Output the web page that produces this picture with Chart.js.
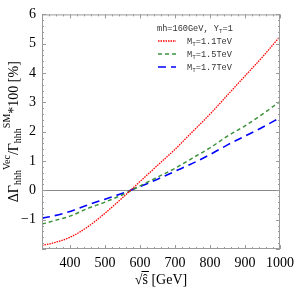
<!DOCTYPE html>
<html>
<head>
<meta charset="utf-8">
<script src="https://cdn.jsdelivr.net/npm/chart.js@4"></script>
<style>
  html, body { margin: 0; padding: 0; background: #fff; }
  #wrap { width: 300px; height: 288px; }
</style>
</head>
<body>
<div id="wrap"><canvas id="c" width="300" height="288"></canvas></div>
<script>
// sqrt(s) in GeV
const sqrtS = [320, 350, 400, 450, 500, 550, 600, 650, 700, 750, 800, 850, 900, 950, 1000];
// Delta Gamma / Gamma_SM * 100 [%]
const mt11 = [-1.88, -1.8, -1.6, -1.25, -0.78, -0.25, 0.3, 0.85, 1.4, 2.0, 2.6, 3.25, 3.9, 4.55, 5.25];
const mt15 = [-1.15, -1.05, -0.88, -0.62, -0.4, -0.15, 0.15, 0.45, 0.75, 1.1, 1.45, 1.85, 2.2, 2.6, 3.03];
const mt17 = [-0.95, -0.88, -0.72, -0.5, -0.3, -0.1, 0.13, 0.38, 0.65, 0.92, 1.22, 1.55, 1.85, 2.15, 2.48];
const massLabels = ['1.1', '1.5', '1.7'];
const xTicks = [400, 500, 600, 700, 800, 900, 1000];
const yTicks = [-1, 0, 1, 2, 3, 4, 5, 6];

const serif = '"Liberation Serif", "DejaVu Serif", serif';
const mono = '"Liberation Mono", "DejaVu Sans Mono", monospace';

function pts(ys) {
  return sqrtS.map((x, i) => ({ x: x, y: ys[i] }));
}

// frame, zero line, inward ticks, legend and axis titles
const decor = {
  id: 'decor',
  beforeDatasetsDraw(chart) {
    const { ctx, chartArea: a, scales } = chart;
    const y0 = scales.y.getPixelForValue(0);
    ctx.save();
    ctx.strokeStyle = '#8a8a8a';
    ctx.lineWidth = 1;
    ctx.beginPath();
    ctx.moveTo(a.left, Math.round(y0) + 0.5);
    ctx.lineTo(a.right, Math.round(y0) + 0.5);
    ctx.stroke();
    ctx.restore();
  },
  afterDatasetsDraw(chart) {
    const { ctx, chartArea: a, scales } = chart;
    const xs = scales.x, ys = scales.y;
    ctx.save();
    ctx.strokeStyle = '#9a9a9a';
    ctx.lineWidth = 1;
    ctx.strokeRect(a.left + 0.5, a.top + 0.5, a.right - a.left - 1, a.bottom - a.top - 1);

    // ticks on x (bottom and top)
    ctx.beginPath();
    for (let v = 320; v <= 1000; v += 20) {
      const major = v % 100 === 0;
      const len = major ? 4 : 2;
      const px = Math.round(xs.getPixelForValue(v)) + 0.5;
      ctx.moveTo(px, a.bottom); ctx.lineTo(px, a.bottom - len);
      ctx.moveTo(px, a.top); ctx.lineTo(px, a.top + len);
    }
    // ticks on y (left and right)
    for (let i = -10; i <= 30; i++) {
      const v = i * 0.2;
      const major = i % 5 === 0;
      const len = major ? 4 : 2;
      const py = Math.round(ys.getPixelForValue(v)) + 0.5;
      ctx.moveTo(a.left, py); ctx.lineTo(a.left + len, py);
      ctx.moveTo(a.right, py); ctx.lineTo(a.right - len, py);
    }
    ctx.stroke();

    // legend
    ctx.fillStyle = '#333';
    ctx.textBaseline = 'alphabetic';
    ctx.font = '8.6px ' + mono;
    let tx = 157;
    ctx.fillText('mh=160GeV, Y', tx, 31);
    tx += ctx.measureText('mh=160GeV, Y').width;
    ctx.font = '6px ' + mono;
    ctx.fillText('T', tx, 33);
    tx += ctx.measureText('T').width;
    ctx.font = '8.6px ' + mono;
    ctx.fillText('=1', tx, 31);

    chart.data.datasets.forEach((ds, i) => {
      const ly = 41 + i * 13;
      ctx.save();
      ctx.strokeStyle = ds.borderColor;
      ctx.lineWidth = ds.borderWidth;
      ctx.setLineDash(ds.borderDash);
      ctx.beginPath();
      ctx.moveTo(158, ly); ctx.lineTo(176, ly);
      ctx.stroke();
      ctx.restore();
      let lx = 187;
      ctx.font = '8.6px ' + mono;
      ctx.fillText('M', lx, ly + 3);
      lx += ctx.measureText('M').width;
      ctx.font = '6px ' + mono;
      ctx.fillText('T', lx, ly + 5);
      lx += ctx.measureText('T').width;
      ctx.font = '8.6px ' + mono;
      ctx.fillText('=' + massLabels[i] + 'TeV', lx, ly + 3);
    });

    // y title, rotated
    const parts = [
      ['ΔΓ', 0], ['hhh', 1], ['Vec', -1], ['/Γ', 0], ['hhh', 1], ['SM', -1], ['*100 [%]', 0]
    ];
    ctx.fillStyle = '#000';
    const fontFor = s => (s === 0 ? '14px ' : '10px ') + serif;
    let total = 0;
    parts.forEach(p => { ctx.font = fontFor(p[1]); total += ctx.measureText(p[0]).width; });
    ctx.save();
    ctx.translate(18, (a.top + a.bottom) / 2);
    ctx.rotate(-Math.PI / 2);
    let px = -total / 2;
    parts.forEach(p => {
      ctx.font = fontFor(p[1]);
      const dy = p[1] === 1 ? 3 : (p[1] === -1 ? -8 : 0);
      ctx.fillText(p[0], px, dy);
      px += ctx.measureText(p[0]).width;
    });
    ctx.restore();

    // x title
    ctx.font = '14px ' + serif;
    const t1 = '√', t2 = 'ŝ', t3 = ' [GeV]';
    const w1 = ctx.measureText(t1).width, w2 = ctx.measureText(t2).width, w3 = ctx.measureText(t3).width;
    let bx = (a.left + a.right) / 2 - (w1 + w2 + w3) / 2;
    const by = 284;
    ctx.fillText(t1, bx, by);
    ctx.fillText(t2, bx + w1, by);
    ctx.fillText(t3, bx + w1 + w2, by);
    ctx.strokeStyle = '#000';
    ctx.beginPath();
    ctx.moveTo(bx + w1 - 1, by - 12.5);
    ctx.lineTo(bx + w1 + w2 + 1, by - 12.5);
    ctx.stroke();
    ctx.restore();
  }
};

new Chart(document.getElementById('c'), {
  type: 'line',
  data: {
    datasets: [
      { data: pts(mt11), borderColor: 'rgb(255,0,0)', borderWidth: 1.3, borderDash: [1.5, 1] },
      { data: pts(mt15), borderColor: 'rgb(60,145,60)', borderWidth: 1.5, borderDash: [4, 3] },
      { data: pts(mt17), borderColor: 'rgb(0,0,255)', borderWidth: 1.6, borderDash: [8, 5] }
    ]
  },
  options: {
    responsive: false,
    animation: false,
    events: [],
    layout: { padding: { top: 5, right: 14, left: 0, bottom: 0 } },
    elements: {
      point: { radius: 0 },
      line: { cubicInterpolationMode: 'monotone', fill: false }
    },
    plugins: { legend: { display: false }, tooltip: { enabled: false } },
    scales: {
      x: {
        type: 'linear',
        min: 320,
        max: 1000,
        grid: { display: false, drawTicks: false },
        border: { display: false },
        afterBuildTicks: s => { s.ticks = xTicks.map(v => ({ value: v })); },
        afterFit: s => { s.height = 39; },
        ticks: {
          color: '#000',
          font: { family: serif, size: 14 },
          padding: 6,
          maxRotation: 0,
          callback: v => String(v)
        }
      },
      y: {
        min: -2,
        max: 6,
        grid: { display: false, drawTicks: false },
        border: { display: false },
        afterBuildTicks: s => { s.ticks = yTicks.map(v => ({ value: v })); },
        afterFit: s => { s.width = 42; },
        ticks: {
          color: '#000',
          font: { family: serif, size: 14 },
          padding: 6,
          callback: v => (v < 0 ? '\u2212' + Math.abs(v) : String(v))
        }
      }
    }
  },
  plugins: [decor]
});
</script>
</body>
</html>
